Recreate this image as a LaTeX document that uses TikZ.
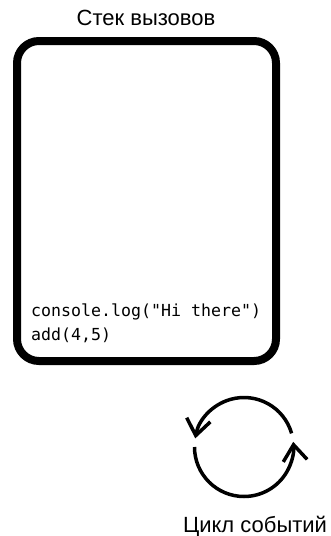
\documentclass[tikz,border=0pt]{standalone}
\usepackage{fontspec}
\setmainfont{Liberation Sans}
\newfontfamily\codefont{DejaVu Sans Mono}
\usetikzlibrary{arrows.meta}
\begin{document}
\begin{tikzpicture}[x=1pt,y=-1pt,
  labeltext/.style={font=\fontsize{22}{26}\selectfont, inner sep=0pt},
  codetext/.style={font=\codefont\fontsize{16.6}{20}\selectfont, inner sep=0pt, anchor=base west},
  stackbox/.style={line width=8pt, rounded corners=22pt},
  looparc/.style={line width=3.5pt, -{Straight Barb[length=16pt,width=24pt,line width=3.5pt]}}]
\useasboundingbox (0,0) rectangle (330,536);
\draw[stackbox] (17,41) rectangle (276,361);
\node[labeltext, anchor=base] (title) at (146,25) {Стек вызовов};
\node[codetext] (c1) at (31,316) {console.log("Hi there")};
\node[codetext] (c2) at (31,340) {add(4,5)};
\coordinate (lc) at (244,447);
\draw[looparc] ([shift={(-16:49.5)}]lc) arc[start angle=-16, end angle=-170, radius=49.5];
\draw[looparc] ([shift={(180:49.5)}]lc) arc[start angle=180, end angle=-6, radius=49.5];
\node[labeltext, anchor=base] (loop) at (255,532) {Цикл событий};
\end{tikzpicture}
\end{document}
